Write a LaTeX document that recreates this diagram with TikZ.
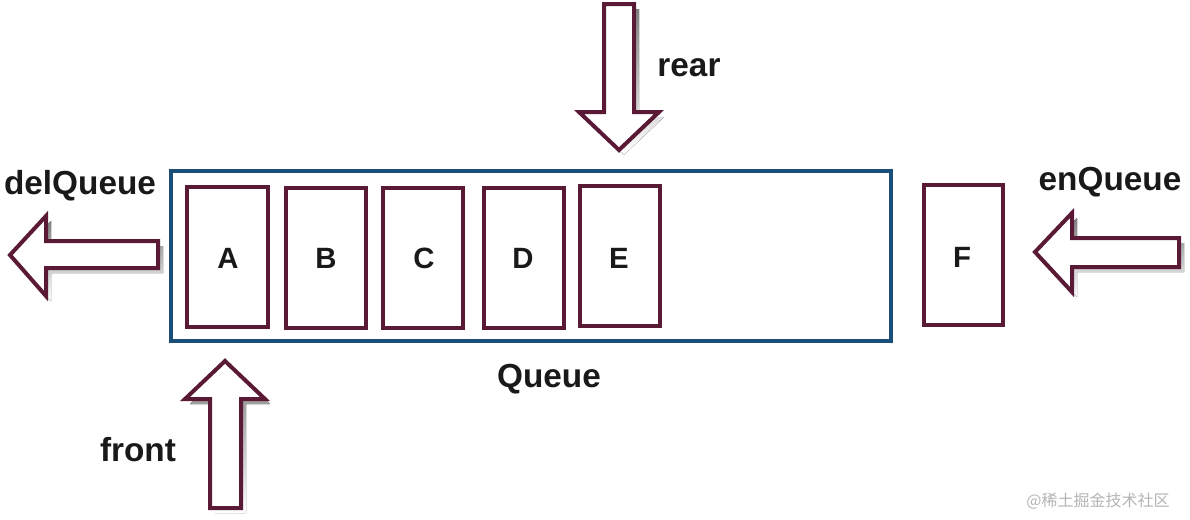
\documentclass[tikz,border=0pt]{standalone}
\usepackage{fontspec}
\setmainfont{Liberation Sans}
\newfontfamily\cjk{Noto Sans CJK SC}
\definecolor{maroon}{HTML}{5A1A35}
\definecolor{qblue}{HTML}{1B4F7A}
\definecolor{shade}{HTML}{DCC6CE}
\definecolor{wm}{HTML}{B4B4B4}
\begin{document}
\begin{tikzpicture}[x=0.75pt,y=-0.75pt,
  cell/.style={draw=maroon,line width=3pt,fill=white},
  blockarrow/.style={draw=maroon,line width=3pt,fill=white,line join=miter},
  arrowshadow/.style={fill=shade,draw=shade,line width=3pt},
  lbl/.style={font=\fontsize{25}{28}\selectfont\bfseries,text=black!90},
  letter/.style={font=\fontsize{22}{26}\selectfont\bfseries,text=black!90}]
\useasboundingbox (0,0) rectangle (1190,519);
% queue container
\draw[qblue,line width=2.3pt] (171,171) rectangle (891,341);
\node[lbl] (queue) at (549,379) {Queue};
% cells
\draw[cell] (187,187) rectangle (268,327);
\node[letter] (A) at (228,258) {A};
\draw[cell] (286,188) rectangle (366,328);
\node[letter] (B) at (326,258) {B};
\draw[cell] (383,188) rectangle (463,328);
\node[letter] (C) at (424,258) {C};
\draw[cell] (484,188) rectangle (564,328);
\node[letter] (D) at (523,258) {D};
\draw[cell] (580,186) rectangle (660,326);
\node[letter] (E) at (619,258) {E};
\draw[cell] (924,185) rectangle (1003,325);
\node[letter] (F) at (962,257) {F};
% rear arrow (down)
\begin{scope}[shift={(5,5)}]
\fill[shade] (604,4) -- (634,4) -- (634,112) -- (659,112) -- (619,150) -- (579,112) -- (604,112) -- cycle;
\end{scope}
\draw[blockarrow] (604,4) -- (634,4) -- (634,112) -- (659,112) -- (619,150) -- (579,112) -- (604,112) -- cycle;
\node[lbl] (rear) at (689,68) {rear};
% delQueue arrow (left)
\begin{scope}[shift={(5,5)}]
\fill[shade] (158,241) -- (158,268) -- (46,268) -- (46,296) -- (10,255) -- (46,216) -- (46,241) -- cycle;
\end{scope}
\draw[blockarrow] (158,241) -- (158,268) -- (46,268) -- (46,296) -- (10,255) -- (46,216) -- (46,241) -- cycle;
\node[lbl] (del) at (80,186) {delQueue};
% enQueue arrow (left)
\begin{scope}[shift={(5,5)}]
\fill[shade] (1179,238) -- (1179,267) -- (1072,267) -- (1072,292) -- (1035,252) -- (1072,213) -- (1072,238) -- cycle;
\end{scope}
\draw[blockarrow] (1179,238) -- (1179,267) -- (1072,267) -- (1072,292) -- (1035,252) -- (1072,213) -- (1072,238) -- cycle;
\node[lbl] (enq) at (1110,182) {enQueue};
% front arrow (up)
\begin{scope}[shift={(5,5)}]
\fill[shade] (210,508) -- (241,508) -- (241,399) -- (265,399) -- (225,361) -- (185,399) -- (210,399) -- cycle;
\end{scope}
\draw[blockarrow] (210,508) -- (241,508) -- (241,399) -- (265,399) -- (225,361) -- (185,399) -- (210,399) -- cycle;
\node[lbl] (front) at (138,450) {front};
% watermark
\node[font=\cjk\fontsize{12}{14}\selectfont,text=wm] (wmark) at (1098,501) {@稀土掘金技术社区};
\end{tikzpicture}
\end{document}
